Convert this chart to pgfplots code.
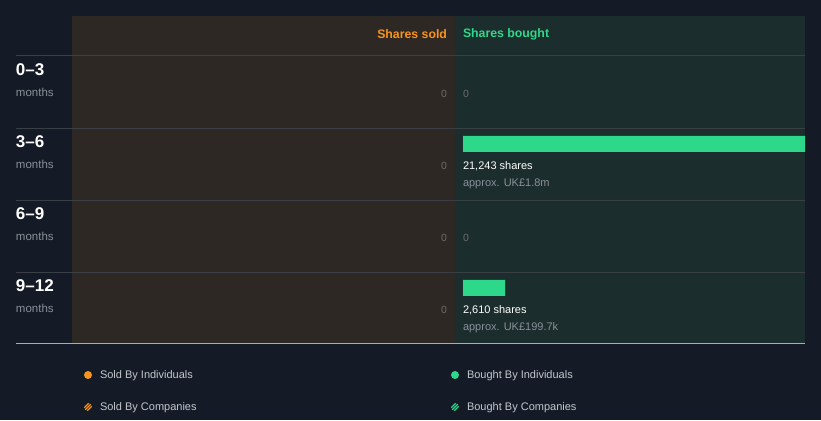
\documentclass[border=0pt]{standalone}
\usepackage{pgfplots}
\pgfplotsset{compat=1.18}
\usepackage{fontspec}
\setmainfont{Liberation Sans}
\definecolor{bg}{HTML}{151B26}
\definecolor{soldbg}{HTML}{2D2823}
\definecolor{boughtbg}{HTML}{1B2D2D}
\definecolor{orangec}{HTML}{F7941D}
\definecolor{greenc}{HTML}{2ED88A}
\definecolor{sepc}{HTML}{3A3F46}
\definecolor{botc}{HTML}{A8ADB3}
\definecolor{greyt}{HTML}{8A9099}
\definecolor{zerot}{HTML}{6C6C6C}
\definecolor{legt}{HTML}{C3C7CC}
\newcommand{\fs}[1]{\fontsize{#1}{#1}\selectfont}
\begin{document}
\begin{tikzpicture}[x=1pt,y=1pt, every node/.style={inner sep=0pt, outer sep=0pt}]
\fill[bg] (0,0) rectangle (821,420);
% pixel frame
\begin{axis}[at={(0,0)}, anchor=south west, scale only axis, width=821pt, height=420pt,
  xmin=0, xmax=821, ymin=0, ymax=420, y dir=reverse, axis lines=none, clip=false]
\fill[soldbg] (axis cs:72,16) rectangle (axis cs:455,343);
\fill[boughtbg] (axis cs:455,16) rectangle (axis cs:805,343);
\foreach \yy in {56,128,200,272}{
  \edef\tmp{\noexpand\draw[sepc, line width=1pt] (axis cs:16,\yy) -- (axis cs:805,\yy);}\tmp
}
\draw[botc, line width=1pt] (axis cs:16,343) -- (axis cs:805,343);
\node[anchor=east, text=orangec] at (axis cs:447,34) {\fs{12.3pt}\bfseries Shares sold};
\node[anchor=west, text=greenc] at (axis cs:463,34) {\fs{12.3pt}\bfseries Shares bought};
% row labels
\node[anchor=west, text=white] at (axis cs:16,70) {\fs{17pt}\bfseries 0–3};
\node[anchor=west, text=greyt] at (axis cs:16,92) {\fs{11.5pt}months};
\node[anchor=west, text=white] at (axis cs:16,142) {\fs{17pt}\bfseries 3–6};
\node[anchor=west, text=greyt] at (axis cs:16,164) {\fs{11.5pt}months};
\node[anchor=west, text=white] at (axis cs:16,214) {\fs{17pt}\bfseries 6–9};
\node[anchor=west, text=greyt] at (axis cs:16,236) {\fs{11.5pt}months};
\node[anchor=west, text=white] at (axis cs:16,286) {\fs{17pt}\bfseries 9–12};
\node[anchor=west, text=greyt] at (axis cs:16,308) {\fs{11.5pt}months};
% legend
\fill[orangec] (axis cs:88,375) circle[radius=4pt];
\node[anchor=west, text=legt] at (axis cs:100,376) {\fs{11pt}Sold By Individuals};
\fill[greenc] (axis cs:455,375) circle[radius=4pt];
\node[anchor=west, text=legt] at (axis cs:467,376) {\fs{11pt}Bought By Individuals};
\begin{scope}
\clip (axis cs:88,407) circle[radius=4pt];
\draw[orangec, line width=1.3pt] (axis cs:79,413) -- (axis cs:91,401);
\draw[orangec, line width=1.3pt] (axis cs:82,413) -- (axis cs:94,401);
\draw[orangec, line width=1.3pt] (axis cs:85,413) -- (axis cs:97,401);
\end{scope}
\node[anchor=west, text=legt] at (axis cs:100,408) {\fs{11pt}Sold By Companies};
\begin{scope}
\clip (axis cs:455,407) circle[radius=4pt];
\draw[greenc, line width=1.3pt] (axis cs:446,413) -- (axis cs:458,401);
\draw[greenc, line width=1.3pt] (axis cs:449,413) -- (axis cs:461,401);
\draw[greenc, line width=1.3pt] (axis cs:452,413) -- (axis cs:464,401);
\end{scope}
\node[anchor=west, text=legt] at (axis cs:467,408) {\fs{11pt}Bought By Companies};
\end{axis}
% sold axis (reversed)
\begin{axis}[at={(72pt,348pt)}, anchor=north west, scale only axis, width=375pt, height=216pt,
  xmin=0, xmax=21243, x dir=reverse, ymin=0, ymax=3, y dir=reverse, axis lines=none, clip=false,
  unbounded coords=discard]
\addplot[xbar, bar width=16pt, fill=orangec, draw=none, x filter/.expression={x==0 ? nan : x}]
  coordinates {(0,0) (0,1) (0,2) (0,3)};
\node[anchor=east, text=zerot, yshift=-22pt] at (axis cs:0,0) {\fs{10.5pt}0};
\node[anchor=east, text=zerot, yshift=-22pt] at (axis cs:0,1) {\fs{10.5pt}0};
\node[anchor=east, text=zerot, yshift=-22pt] at (axis cs:0,2) {\fs{10.5pt}0};
\node[anchor=east, text=zerot, yshift=-22pt] at (axis cs:0,3) {\fs{10.5pt}0};
\end{axis}
% bought axis
\begin{axis}[at={(463pt,348pt)}, anchor=north west, scale only axis, width=342pt, height=216pt,
  xmin=0, xmax=21243, ymin=0, ymax=3, y dir=reverse, axis lines=none, clip=false,
  unbounded coords=discard]
\addplot[xbar, bar width=16pt, fill=greenc, draw=none, x filter/.expression={x==0 ? nan : x}]
  coordinates {(0,0) (21243,1) (0,2) (2610,3)};
\node[anchor=west, text=zerot, yshift=-22pt] at (axis cs:0,0) {\fs{10.5pt}0};
\node[anchor=west, text=white, yshift=-22pt] at (axis cs:0,1) {\fs{11pt}21,243 shares};
\node[anchor=west, text=greyt, yshift=-40pt] at (axis cs:0,1) {\fs{11pt}approx. UK£1.8m};
\node[anchor=west, text=zerot, yshift=-22pt] at (axis cs:0,2) {\fs{10.5pt}0};
\node[anchor=west, text=white, yshift=-22pt] at (axis cs:0,3) {\fs{11pt}2,610 shares};
\node[anchor=west, text=greyt, yshift=-40pt] at (axis cs:0,3) {\fs{11pt}approx. UK£199.7k};
\end{axis}
\end{tikzpicture}
\end{document}
